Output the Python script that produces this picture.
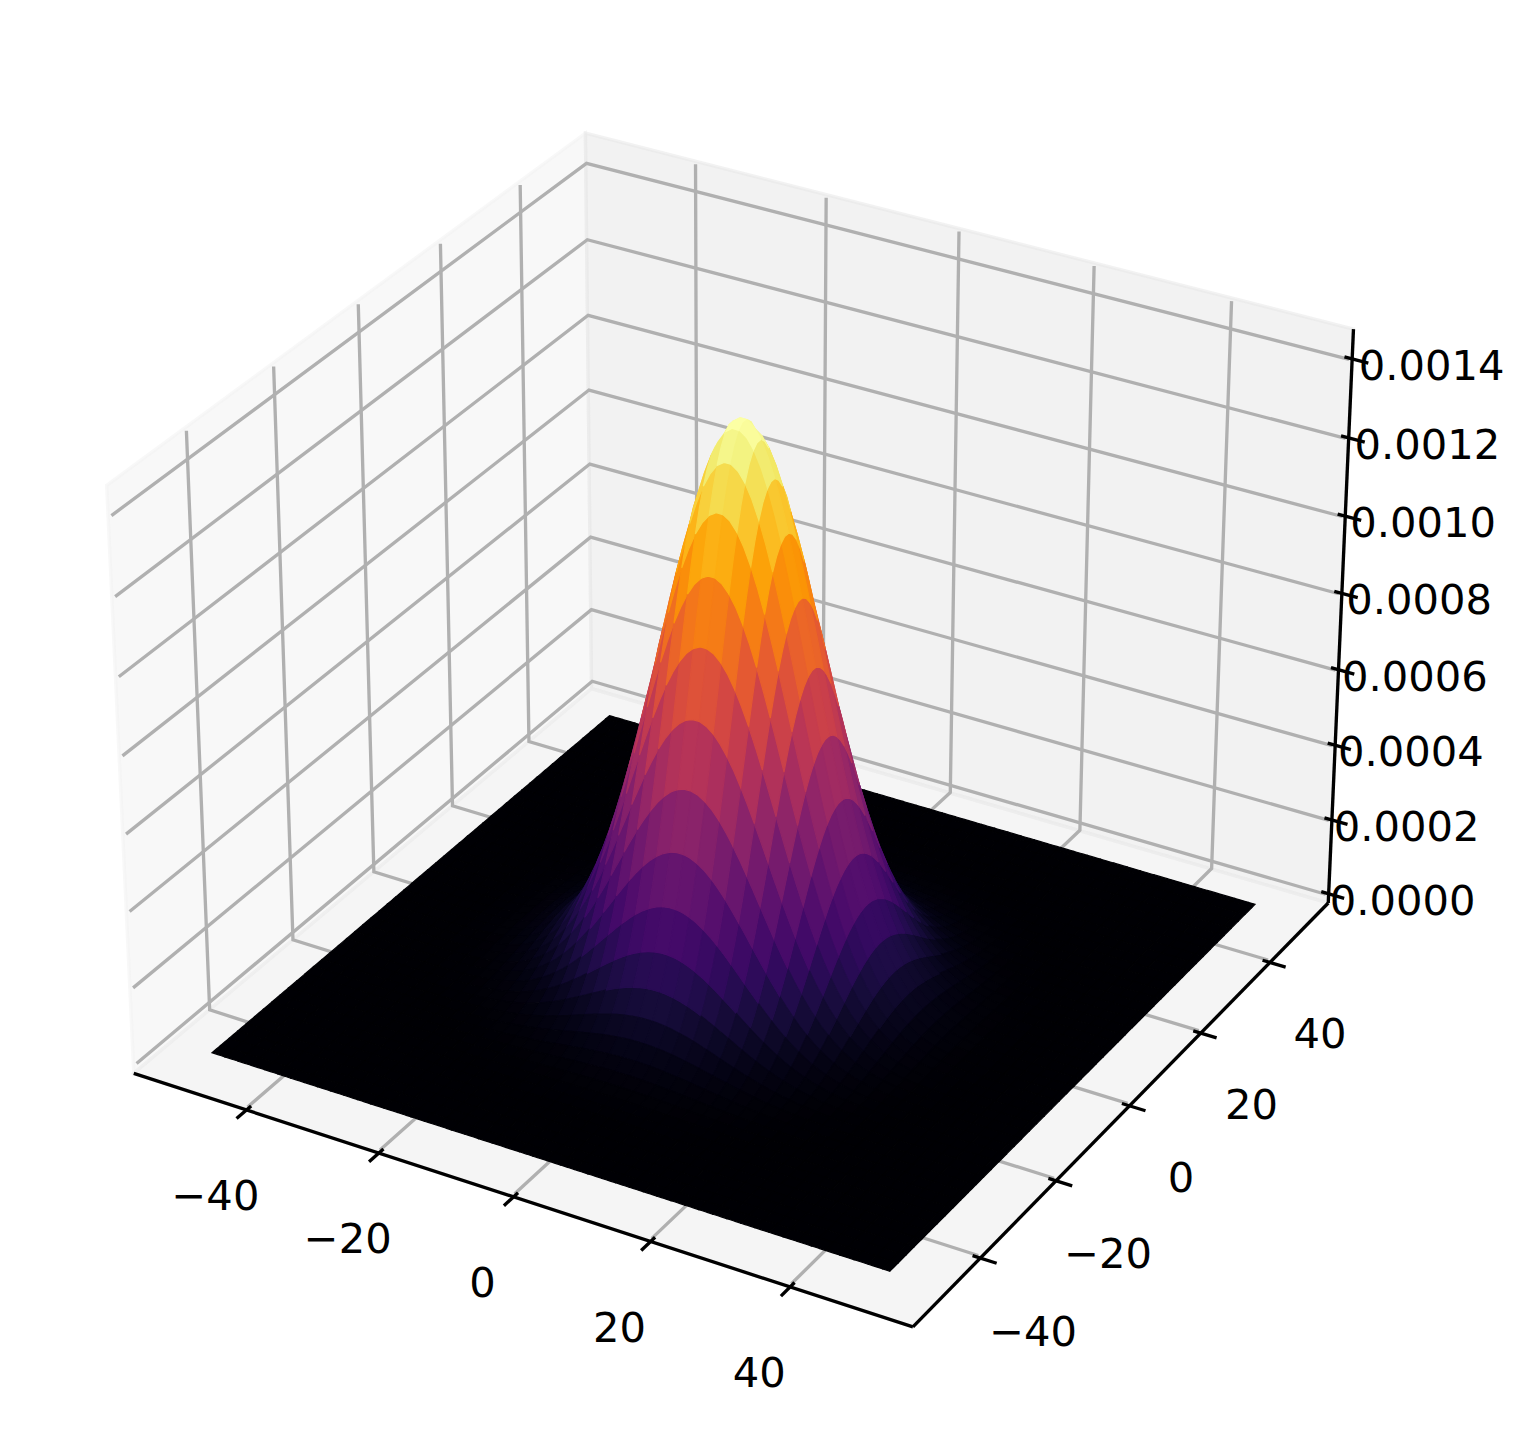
import numpy as np, pandas as pd, altair as alt
alt.data_transformers.disable_max_rows()

# axis limits of the panes and tick values / labels
L=57.3; LO=-0.000025; HI=0.001475
XT=[-40,-20,0,20,40]; ZT=[0,.0002,.0004,.0006,.0008,.001,.0012,.0014]
XL=['\u221240','\u221220','0','20','40']; ZL=['0.0000','0.0002','0.0004','0.0006','0.0008','0.0010','0.0012','0.0014']
# surface sample positions (positive half, mirrored) and bell profile
GRID_HALF=[0.505,1.515,2.525,3.535,4.545,5.556,6.566,7.576,8.586,9.596,10.606,11.616,12.626,13.636,14.646,15.657,16.667,17.677,18.687,19.697,20.707,21.717,22.727,23.737,24.747,25.758,26.768,27.778,28.788,29.798,30.808,31.818,32.828,33.838,34.848,35.859,36.869,37.879,38.889,39.899,40.909,41.919,42.929,43.939,44.949,45.960,46.970,47.980,48.990,50.000]
PROFILE_HALF=[0.998841,0.989619,0.97143,0.944771,0.910361,0.869105,0.822058,0.770379,0.715283,0.657996,0.599709,0.541538,0.484495,0.429459,0.37716,0.328172,0.28291,0.241639,0.204483,0.171443,0.142415,0.117209,0.0955736,0.0772124,0.0618028,0.0490118,0.0385092,0.0299779,0.0231211,0.017668,0.0133764,0.0100337,0.00745687,0.00549064,0.00400554,0.00289515,0.00207325,0.00147097,0.00103402,0.000720156,0.00049693,0.000339731,0.000230116,0.000154429,0.00010268,6.76412e-05,4.41479e-05,2.85483e-05,1.82903e-05,1.16101e-05]
PEAK=0.001442
GRID=np.array([-g for g in reversed(GRID_HALF)]+GRID_HALF)
PROFILE=np.array(list(reversed(PROFILE_HALF))+PROFILE_HALF)

ELEV,AZIM=np.radians(30),np.radians(-60)
box=np.array([4,4,3.])*1.8295/np.linalg.norm([4,4,3.]); R=box/2
eye=R+10*np.array([np.cos(ELEV)*np.cos(AZIM),np.cos(ELEV)*np.sin(AZIM),np.sin(ELEV)])
w=(eye-R)/10; u=np.cross([0,0,1],w); u/=np.linalg.norm(u); v=np.cross(w,u)
def pr(x,y,z):
    x,y,z=np.asarray(x,float),np.asarray(y,float),np.asarray(z,float)
    P=np.stack([(x+L)/(2*L)*box[0],(y+L)/(2*L)*box[1],(z-LO)/(HI-LO)*box[2]],-1)-eye
    ex,ey,ez=P@u,P@v,P@w
    return 7812.58*ex/-ez+741.6,-7821.75*ey/-ez+702.44,10/ez

def area_rows(xs,ys):
    ux=np.unique(xs); n=len(xs); out=[]
    for X in ux:
        hits=[]
        for a in range(n):
            b=(a+1)%n
            x0,x1,y0,y1=xs[a],xs[b],ys[a],ys[b]
            if min(x0,x1)<=X<=max(x0,x1):
                if x0==x1: hits+= [y0,y1]
                else: hits.append(y0+(X-x0)/(x1-x0)*(y1-y0))
        out.append((X,min(hits),max(hits)))
    return out

panes=[([(-L,-L,LO),(-L,L,LO),(-L,L,HI),(-L,-L,HI)],'#f2f2f2'),
       ([(-L,L,LO),(L,L,LO),(L,L,HI),(-L,L,HI)],'#e6e6e6'),
       ([(-L,-L,LO),(L,-L,LO),(L,L,LO),(-L,L,LO)],'#ececec')]
pane_layers=[]
W,H=1517,1430
xs=alt.Scale(domain=[8,8+W],range=[0,W],nice=False,zero=False)
ys=alt.Scale(domain=[8,8+H],range=[0,H],nice=False,zero=False)
X=alt.X('x:Q',scale=xs,axis=None); Y=alt.Y('y:Q',scale=ys,axis=None); Y2=alt.Y2('y2:Q')
for i,(c,col) in enumerate(panes):
    c=np.array(c); A,B,_=pr(c[:,0],c[:,1],c[:,2])
    d=pd.DataFrame([dict(x=a,y=b,y2=e) for a,b,e in area_rows(A,B)])
    pane_layers.append(alt.Chart(d).mark_area(orient='vertical',fill=col,stroke=col,fillOpacity=.5,strokeOpacity=.5,strokeWidth=3.3).encode(x=X,y=Y,y2=Y2))

def seg(rows,i,pts):
    pts=np.array(pts); A,B,_=pr(pts[:,0],pts[:,1],pts[:,2])
    for k,(a,b) in enumerate(zip(A,B)): rows.append(dict(x=a,y=b,id=i,k=k))
grid=[];n=0
G=L-0.3; GL=LO+0.000005; GH=HI-0.000005
for t in XT: seg(grid,n,[(t,-G,GL),(t,G,GL),(t,G,GH)]); n+=1
for t in XT: seg(grid,n,[(G,t,GL),(-G,t,GL),(-G,t,GH)]); n+=1
for t in ZT: seg(grid,n,[(-G,-G,t),(-G,G,t),(G,G,t)]); n+=1
grid_df=pd.DataFrame(grid)
ax=[];n=0
seg(ax,n,[(-L,-L,LO),(L,-L,LO)]); n+=1
seg(ax,n,[(L,-L,LO),(L,L,LO)]); n+=1
seg(ax,n,[(L,L,LO),(L,L,HI)]); n+=1
for t in XT: seg(ax,n,[(t,-L+1.1,LO),(t,-L-2.3,LO)]); n+=1
for t in XT: seg(ax,n,[(L-1.1,t,LO),(L+2.3,t,LO)]); n+=1
for t in ZT: seg(ax,n,[(L-1.1,L,t),(L+2.3,L,t)]); n+=1
ax_df=pd.DataFrame(ax)

lab=[]
for t,s in zip(XT,XL):
    a,b,_=pr(t,-L,LO); lab.append(dict(x=a-31,y=b+87,t=s))
for t,s in zip(XT,XL):
    a,b,_=pr(L,t,LO); lab.append(dict(x=a+51.4-t*.035,y=b+73.3-t*.029,t=s))
for t,s in zip(ZT,ZL):
    a,b,_=pr(L,L,t); lab.append(dict(x=a+74+t/.0014*5.5,y=b+8,t=s))
lab_df=pd.DataFrame(lab)

ind=list(range(0,100,2))+[99]
cells=[]
for i in range(len(ind)-1):
    for j in range(len(ind)-1):
        i0,i1,j0,j1=ind[i],ind[i+1],ind[j],ind[j+1]
        per=[(a,j0) for a in range(i0,i1)]+[(i1,b) for b in range(j0,j1)]+[(a,j1) for a in range(i1,i0,-1)]+[(i0,b) for b in range(j1,j0,-1)]
        per=np.array(per)
        A=GRID[per[:,0]]; B=GRID[per[:,1]]; Z=PEAK*PROFILE[per[:,0]]*PROFILE[per[:,1]]
        sx,sy,sz=pr(A,B,Z)
        cells.append((sz.mean(),Z.mean(),sx,sy))
cells.sort(key=lambda c:-c[0])
rows=[]
for n,(d,z,sx,sy) in enumerate(cells):
    for a,b,e in area_rows(sx,sy): rows.append(dict(x=round(a,2),y=round(b,2),y2=round(e,2),id=n,z=z))
surf=pd.DataFrame(rows)
zdom=[surf.z.min(),surf.z.max()]

gl=alt.Chart(grid_df).mark_line(color='#b0b0b0',strokeWidth=3.33).encode(x=X,y=Y,detail='id:N',order='k:Q')
al=alt.Chart(ax_df).mark_line(color='#000000',strokeWidth=3.33).encode(x=X,y=Y,detail='id:N',order='k:Q')
csc=alt.Scale(scheme='inferno',domain=zdom)
sf=alt.Chart(surf).mark_area(orient='vertical',strokeWidth=1.2).encode(x=X,y=Y,y2=Y2,detail='id:N',
    fill=alt.Fill('z:Q',scale=csc,legend=None),stroke=alt.Stroke('z:Q',scale=csc,legend=None))
tx=alt.Chart(lab_df).mark_text(font='DejaVu Sans',fontSize=41.67,color='#000000',align='center',baseline='middle').encode(x=X,y=Y,text='t:N')
chart=alt.layer(*pane_layers,gl,al,sf,tx).properties(width=W,height=H,padding=0).configure_view(stroke=None)
chart.save("out.html", embed_options={"renderer": "svg", "actions": False})
